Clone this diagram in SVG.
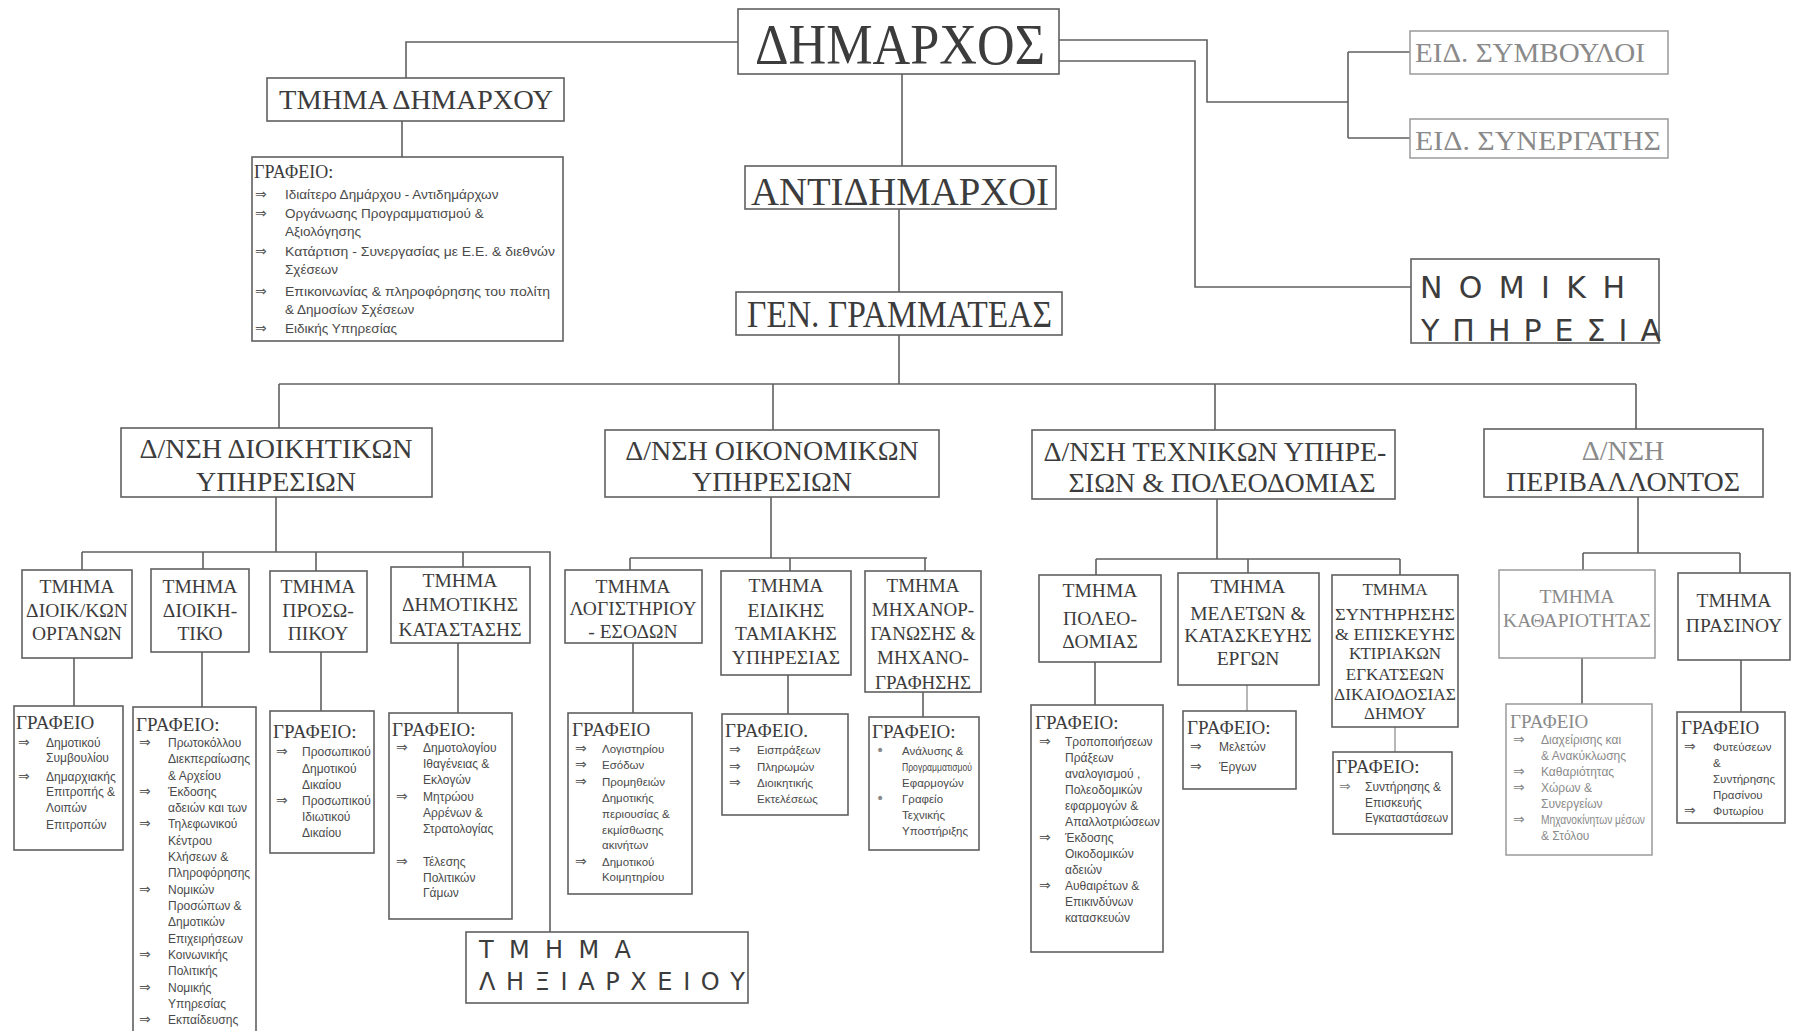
<svg xmlns="http://www.w3.org/2000/svg" width="1794" height="1031" viewBox="0 0 1794 1031">
<style>
.box{fill:#fff;stroke:#606060;stroke-width:1.6}
.fbox{fill:#fff;stroke:#9a9a9a;stroke-width:1.5}
.ln{fill:none;stroke:#606060;stroke-width:1.6}
.fln{fill:none;stroke:#a0a0a0;stroke-width:1.5}
.h{font-family:"Liberation Serif","Times New Roman",serif;fill:#3c3c3c}
.sec{font-family:"Liberation Serif","Times New Roman",serif;fill:#3c3c3c;font-size:19.5px;text-anchor:middle}
.dir{font-family:"Liberation Serif","Times New Roman",serif;fill:#3c3c3c;font-size:28px;text-anchor:middle}
.ti{font-family:"Liberation Serif","Times New Roman",serif;fill:#3c3c3c;font-size:19px}
.s{font-family:"Liberation Sans",Arial,sans-serif;fill:#4a4a4a;font-size:12px}
.bl{font-family:"DejaVu Sans",sans-serif;fill:#5a5a5a;font-size:14px}
.sp{font-family:"DejaVu Sans","Liberation Sans",sans-serif;fill:#3c3c3c}
.faint{fill:#8a8a8a}
</style>
<rect width="1794" height="1031" fill="#fff"/>

<g id="connectors">
<path class="ln" d="M738 42H406V78"/>
<path class="ln" d="M402 121V157"/>
<path class="ln" d="M902 74V166"/>
<path class="ln" d="M899 209V292"/>
<path class="ln" d="M899 335V384"/>
<path class="ln" d="M1059 40H1207V102H1348"/>
<path class="ln" d="M1348 52V138M1348 52H1410M1348 138H1410"/>
<path class="ln" d="M1059 61H1195V287H1411"/>
<path class="ln" d="M279 384H1636"/>
<path class="ln" d="M279 384V428M773 384V430M1215 384V430M1636 384V429"/>
<path class="ln" d="M276 497V552M82 552H550V932"/>
<path class="ln" d="M82 552V570M203 552V569M316 552V571M463 552V567"/>
<path class="ln" d="M74 658V706M202 652V707M321 652V711M458 643V713"/>
<path class="ln" d="M771 497V558M630 558H927"/>
<path class="ln" d="M630 558V570M790 558V571M925 558V571"/>
<path class="ln" d="M633 643V713M788 675V714M923 692V717"/>
<path class="ln" d="M1217 499V559M1096 559H1400"/>
<path class="ln" d="M1096 559V575M1248 559V573M1400 559V575"/>
<path class="ln" d="M1095 662V705"/>
<path class="fln" d="M1247 685V711M1395 727V752"/>
<path class="ln" d="M1638 497V553M1583 553H1740"/>
<path class="ln" d="M1583 553V570M1740 553V573"/>
<path class="ln" d="M1582 658V704M1741 660V712"/>
</g>

<g id="dimarxos">
<rect class="box" x="738" y="9" width="321" height="65"/>
<text class="h" x="755" y="64" font-size="56" textLength="290" lengthAdjust="spacingAndGlyphs">ΔΗΜΑΡΧΟΣ</text>
</g>
<g id="tmima-dimarxou">
<rect class="box" x="267" y="78" width="297" height="43"/>
<text class="h" x="279" y="109" font-size="28" textLength="274" lengthAdjust="spacingAndGlyphs">ΤΜΗΜΑ ΔΗΜΑΡΧΟΥ</text>
</g>
<g id="grafeio-dimarxou">
<rect class="box" x="252" y="157" width="311" height="184"/>
<text class="ti" x="254" y="178" style="font-size:18px">ΓΡΑΦΕΙΟ:</text>
<text class="bl"><tspan x="255" y="199">⇒</tspan><tspan x="255" y="218">⇒</tspan><tspan x="255" y="256">⇒</tspan><tspan x="255" y="296">⇒</tspan><tspan x="255" y="333">⇒</tspan></text>
<text class="s" style="font-size:13.5px"><tspan x="285" y="199">Ιδιαίτερο Δημάρχου - Αντιδημάρχων</tspan><tspan x="285" y="218">Οργάνωσης Προγραμματισμού &amp;</tspan><tspan x="285" y="236">Αξιολόγησης</tspan><tspan x="285" y="256" textLength="270" lengthAdjust="spacingAndGlyphs">Κατάρτιση - Συνεργασίας με Ε.Ε. &amp; διεθνών</tspan><tspan x="285" y="274">Σχέσεων</tspan><tspan x="285" y="296" textLength="265" lengthAdjust="spacingAndGlyphs">Επικοινωνίας &amp; πληροφόρησης του πολίτη</tspan><tspan x="285" y="314">&amp; Δημοσίων Σχέσεων</tspan><tspan x="285" y="333">Ειδικής Υπηρεσίας</tspan></text>
</g>
<g id="antidimarxoi">
<rect class="box" x="745" y="166" width="311" height="43"/>
<text class="h" x="751" y="205" font-size="40" textLength="298" lengthAdjust="spacingAndGlyphs">ΑΝΤΙΔΗΜΑΡΧΟΙ</text>
</g>
<g id="gen-grammateas">
<rect class="box" x="736" y="292" width="326" height="43"/>
<text class="h" x="747" y="327" font-size="37" textLength="305" lengthAdjust="spacingAndGlyphs">ΓΕΝ. ΓΡΑΜΜΑΤΕΑΣ</text>
</g>
<g id="eid-symvouloi">
<rect class="fbox" x="1410" y="31" width="258" height="43"/>
<text class="h faint" x="1415" y="62" font-size="27" textLength="230" lengthAdjust="spacingAndGlyphs">ΕΙΔ. ΣΥΜΒΟΥΛΟΙ</text>
</g>
<g id="eid-synergatis">
<rect class="fbox" x="1410" y="119" width="258" height="39"/>
<text class="h faint" x="1415" y="150" font-size="27" textLength="246" lengthAdjust="spacingAndGlyphs">ΕΙΔ. ΣΥΝΕΡΓΑΤΗΣ</text>
</g>
<g id="nomiki">
<rect class="box" x="1411" y="259" width="248" height="84"/>
<text class="sp" x="1420" y="298" font-size="30" textLength="205" lengthAdjust="spacing">ΝΟΜΙΚΗ</text>
<text class="sp" x="1421" y="341" font-size="30" textLength="240" lengthAdjust="spacing">ΥΠΗΡΕΣΙΑ</text>
</g>

<g id="dnsi-dioikitikon">
<rect class="box" x="121" y="428" width="311" height="69"/>
<text class="dir"><tspan x="276" y="458">Δ/ΝΣΗ ΔΙΟΙΚΗΤΙΚΩΝ</tspan><tspan x="276" y="491">ΥΠΗΡΕΣΙΩΝ</tspan></text>
</g>
<g id="dnsi-oikonomikon">
<rect class="box" x="605" y="430" width="334" height="67"/>
<text class="dir"><tspan x="772" y="460">Δ/ΝΣΗ ΟΙΚΟΝΟΜΙΚΩΝ</tspan><tspan x="772" y="491">ΥΠΗΡΕΣΙΩΝ</tspan></text>
</g>
<g id="dnsi-texnikon">
<rect class="box" x="1032" y="430" width="363" height="69"/>
<text class="dir"><tspan x="1215" y="461">Δ/ΝΣΗ ΤΕΧΝΙΚΩΝ ΥΠΗΡΕ-</tspan><tspan x="1222" y="492">ΣΙΩΝ &amp; ΠΟΛΕΟΔΟΜΙΑΣ</tspan></text>
</g>
<g id="dnsi-perivallontos">
<rect class="box" x="1484" y="429" width="279" height="68"/>
<text class="dir"><tspan class="faint" x="1623" y="460">Δ/ΝΣΗ</tspan><tspan x="1623" y="491">ΠΕΡΙΒΑΛΛΟΝΤΟΣ</tspan></text>
</g>

<g id="tm-organon">
<rect class="box" x="22" y="570" width="110" height="88"/>
<text class="sec"><tspan x="77" y="593">ΤΜΗΜΑ</tspan><tspan x="77" y="617">ΔΙΟΙΚ/ΚΩΝ</tspan><tspan x="77" y="640">ΟΡΓΑΝΩΝ</tspan></text>
</g>
<g id="tm-dioikitiko">
<rect class="box" x="151" y="569" width="98" height="83"/>
<text class="sec"><tspan x="200" y="593">ΤΜΗΜΑ</tspan><tspan x="200" y="617">ΔΙΟΙΚΗ-</tspan><tspan x="200" y="640">ΤΙΚΟ</tspan></text>
</g>
<g id="tm-prosopikou">
<rect class="box" x="270" y="571" width="97" height="81"/>
<text class="sec"><tspan x="318" y="593">ΤΜΗΜΑ</tspan><tspan x="318" y="617">ΠΡΟΣΩ-</tspan><tspan x="318" y="640">ΠΙΚΟΥ</tspan></text>
</g>
<g id="tm-dimotikis">
<rect class="box" x="391" y="567" width="139" height="76"/>
<text class="sec"><tspan x="460" y="587">ΤΜΗΜΑ</tspan><tspan x="460" y="611">ΔΗΜΟΤΙΚΗΣ</tspan><tspan x="460" y="636">ΚΑΤΑΣΤΑΣΗΣ</tspan></text>
</g>
<g id="tm-lixiarxeiou">
<rect class="box" x="466" y="932" width="282" height="71"/>
<text class="sp" x="479" y="958" font-size="24" textLength="152" lengthAdjust="spacing">ΤΜΗΜΑ</text>
<text class="sp" x="479" y="990" font-size="24" textLength="266" lengthAdjust="spacing">ΛΗΞΙΑΡΧΕΙΟΥ</text>
</g>

<g id="tm-logistiriou">
<rect class="box" x="565" y="570" width="137" height="73"/>
<text class="sec"><tspan x="633" y="593">ΤΜΗΜΑ</tspan><tspan x="633" y="615">ΛΟΓΙΣΤΗΡΙΟΥ</tspan><tspan x="633" y="638">- ΕΣΟΔΩΝ</tspan></text>
</g>
<g id="tm-tamiakis">
<rect class="box" x="721" y="571" width="130" height="104"/>
<text class="sec"><tspan x="786" y="592">ΤΜΗΜΑ</tspan><tspan x="786" y="617">ΕΙΔΙΚΗΣ</tspan><tspan x="786" y="640">ΤΑΜΙΑΚΗΣ</tspan><tspan x="786" y="664">ΥΠΗΡΕΣΙΑΣ</tspan></text>
</g>
<g id="tm-mixanorganosis">
<rect class="box" x="865" y="571" width="116" height="121"/>
<text class="sec" style="font-size:19px"><tspan x="923" y="592">ΤΜΗΜΑ</tspan><tspan x="923" y="616">ΜΗΧΑΝΟΡ-</tspan><tspan x="923" y="640">ΓΑΝΩΣΗΣ &amp;</tspan><tspan x="923" y="664">ΜΗΧΑΝΟ-</tspan><tspan x="923" y="689">ΓΡΑΦΗΣΗΣ</tspan></text>
</g>

<g id="tm-poleodomias">
<rect class="box" x="1039" y="575" width="122" height="87"/>
<text class="sec"><tspan x="1100" y="597">ΤΜΗΜΑ</tspan><tspan x="1100" y="625">ΠΟΛΕΟ-</tspan><tspan x="1100" y="648">ΔΟΜΙΑΣ</tspan></text>
</g>
<g id="tm-meleton">
<rect class="box" x="1178" y="573" width="141" height="112"/>
<text class="sec"><tspan x="1248" y="593">ΤΜΗΜΑ</tspan><tspan x="1248" y="620">ΜΕΛΕΤΩΝ &amp;</tspan><tspan x="1248" y="642">ΚΑΤΑΣΚΕΥΗΣ</tspan><tspan x="1248" y="665">ΕΡΓΩΝ</tspan></text>
</g>
<g id="tm-syntirisis">
<rect class="box" x="1332" y="575" width="126" height="152"/>
<text class="sec" style="font-size:17px"><tspan x="1395" y="595">ΤΜΗΜΑ</tspan><tspan x="1395" y="620" textLength="120" lengthAdjust="spacingAndGlyphs">ΣΥΝΤΗΡΗΣΗΣ</tspan><tspan x="1395" y="640" textLength="120" lengthAdjust="spacingAndGlyphs">&amp; ΕΠΙΣΚΕΥΗΣ</tspan><tspan x="1395" y="659">ΚΤΙΡΙΑΚΩΝ</tspan><tspan x="1395" y="680">ΕΓΚΑΤΣΕΩΝ</tspan><tspan x="1395" y="700" textLength="122" lengthAdjust="spacingAndGlyphs">ΔΙΚΑΙΟΔΟΣΙΑΣ</tspan><tspan x="1395" y="719">ΔΗΜΟΥ</tspan></text>
</g>

<g id="tm-kathariotitas">
<rect class="fbox" x="1499" y="570" width="156" height="88"/>
<text class="sec faint"><tspan x="1577" y="603">ΤΜΗΜΑ</tspan><tspan x="1577" y="627">ΚΑΘΑΡΙΟΤΗΤΑΣ</tspan></text>
</g>
<g id="tm-prasinou">
<rect class="box" x="1678" y="573" width="112" height="87"/>
<text class="sec"><tspan x="1734" y="607">ΤΜΗΜΑ</tspan><tspan x="1734" y="632">ΠΡΑΣΙΝΟΥ</tspan></text>
</g>

<g id="graf-organon">
<rect class="box" x="14" y="706" width="109" height="144"/>
<text class="ti" x="16" y="729">ΓΡΑΦΕΙΟ</text>
<text class="bl"><tspan x="18" y="747">⇒</tspan><tspan x="18" y="781">⇒</tspan></text>
<text class="s"><tspan x="46" y="747">Δημοτικού</tspan><tspan x="46" y="762">Συμβουλίου</tspan><tspan x="46" y="781">Δημαρχιακής</tspan><tspan x="46" y="796">Επιτροπής &amp;</tspan><tspan x="46" y="812">Λοιπών</tspan><tspan x="46" y="829">Επιτροπών</tspan></text>
</g>
<g id="graf-dioikitiko">
<rect class="box" x="133" y="707" width="123" height="340"/>
<text class="ti" x="136" y="731">ΓΡΑΦΕΙΟ:</text>
<text class="bl"><tspan x="139" y="747">⇒</tspan><tspan x="139" y="796">⇒</tspan><tspan x="139" y="828">⇒</tspan><tspan x="139" y="894">⇒</tspan><tspan x="139" y="959">⇒</tspan><tspan x="139" y="992">⇒</tspan><tspan x="139" y="1024">⇒</tspan></text>
<text class="s" style="font-size:12px"><tspan x="168" y="747">Πρωτοκόλλου</tspan><tspan x="168" y="763" textLength="82" lengthAdjust="spacingAndGlyphs">Διεκπεραίωσης</tspan><tspan x="168" y="780">&amp; Αρχείου</tspan><tspan x="168" y="796">Έκδοσης</tspan><tspan x="168" y="812">αδειών και των</tspan><tspan x="168" y="828">Τηλεφωνικού</tspan><tspan x="168" y="845">Κέντρου</tspan><tspan x="168" y="861">Κλήσεων &amp;</tspan><tspan x="168" y="877" textLength="82" lengthAdjust="spacingAndGlyphs">Πληροφόρησης</tspan><tspan x="168" y="894">Νομικών</tspan><tspan x="168" y="910">Προσώπων &amp;</tspan><tspan x="168" y="926">Δημοτικών</tspan><tspan x="168" y="943">Επιχειρήσεων</tspan><tspan x="168" y="959">Κοινωνικής</tspan><tspan x="168" y="975">Πολιτικής</tspan><tspan x="168" y="992">Νομικής</tspan><tspan x="168" y="1008">Υπηρεσίας</tspan><tspan x="168" y="1024">Εκπαίδευσης</tspan></text>
</g>
<g id="graf-prosopikou">
<rect class="box" x="270" y="711" width="104" height="142"/>
<text class="ti" x="273" y="738">ΓΡΑΦΕΙΟ:</text>
<text class="bl"><tspan x="276" y="756">⇒</tspan><tspan x="276" y="805">⇒</tspan></text>
<text class="s"><tspan x="302" y="756">Προσωπικού</tspan><tspan x="302" y="773">Δημοτικού</tspan><tspan x="302" y="789">Δικαίου</tspan><tspan x="302" y="805">Προσωπικού</tspan><tspan x="302" y="821">Ιδιωτικού</tspan><tspan x="302" y="837">Δικαίου</tspan></text>
</g>
<g id="graf-dimotikis">
<rect class="box" x="389" y="713" width="123" height="206"/>
<text class="ti" x="392" y="736">ΓΡΑΦΕΙΟ:</text>
<text class="bl"><tspan x="396" y="752">⇒</tspan><tspan x="396" y="801">⇒</tspan><tspan x="396" y="866">⇒</tspan></text>
<text class="s"><tspan x="423" y="752">Δημοτολογίου</tspan><tspan x="423" y="768">Ιθαγένειας &amp;</tspan><tspan x="423" y="784">Εκλογών</tspan><tspan x="423" y="801">Μητρώου</tspan><tspan x="423" y="817">Αρρένων &amp;</tspan><tspan x="423" y="833">Στρατολογίας</tspan><tspan x="423" y="866">Τέλεσης</tspan><tspan x="423" y="882">Πολιτικών</tspan><tspan x="423" y="897">Γάμων</tspan></text>
</g>

<g id="graf-logistiriou">
<rect class="box" x="568" y="713" width="124" height="181"/>
<text class="ti" x="572" y="736">ΓΡΑΦΕΙΟ</text>
<text class="bl"><tspan x="575" y="753">⇒</tspan><tspan x="575" y="769">⇒</tspan><tspan x="575" y="786">⇒</tspan><tspan x="575" y="866">⇒</tspan></text>
<text class="s" style="font-size:11.5px"><tspan x="602" y="753">Λογιστηρίου</tspan><tspan x="602" y="769">Εσόδων</tspan><tspan x="602" y="786">Προμηθειών</tspan><tspan x="602" y="802">Δημοτικής</tspan><tspan x="602" y="818">περιουσίας &amp;</tspan><tspan x="602" y="834">εκμίσθωσης</tspan><tspan x="602" y="849">ακινήτων</tspan><tspan x="602" y="866">Δημοτικού</tspan><tspan x="602" y="881">Κοιμητηρίου</tspan></text>
</g>
<g id="graf-tamiakis">
<rect class="box" x="722" y="714" width="126" height="101"/>
<text class="ti" x="725" y="737">ΓΡΑΦΕΙΟ.</text>
<text class="bl"><tspan x="729" y="754">⇒</tspan><tspan x="729" y="771">⇒</tspan><tspan x="729" y="787">⇒</tspan></text>
<text class="s" style="font-size:11.5px"><tspan x="757" y="754">Εισπράξεων</tspan><tspan x="757" y="771">Πληρωμών</tspan><tspan x="757" y="787">Διοικητικής</tspan><tspan x="757" y="803">Εκτελέσεως</tspan></text>
</g>
<g id="graf-mixanorganosis">
<rect class="box" x="869" y="717" width="110" height="133"/>
<text class="ti" x="872" y="738">ΓΡΑΦΕΙΟ:</text>
<text class="bl faint"><tspan x="876" y="755">•</tspan><tspan x="876" y="803">•</tspan></text>
<text class="s" style="font-size:11.5px"><tspan x="902" y="755">Ανάλυσης &amp;</tspan><tspan x="902" y="771" textLength="70" lengthAdjust="spacingAndGlyphs">Προγραμματισμού</tspan><tspan x="902" y="787">Εφαρμογών</tspan><tspan x="902" y="803">Γραφείο</tspan><tspan x="902" y="819">Τεχνικής</tspan><tspan x="902" y="835">Υποστήριξης</tspan></text>
</g>

<g id="graf-poleodomias">
<rect class="box" x="1031" y="705" width="132" height="247"/>
<text class="ti" x="1035" y="729">ΓΡΑΦΕΙΟ:</text>
<text class="bl"><tspan x="1039" y="746">⇒</tspan><tspan x="1039" y="842">⇒</tspan><tspan x="1039" y="890">⇒</tspan></text>
<text class="s"><tspan x="1065" y="746">Τροποποιήσεων</tspan><tspan x="1065" y="762">Πράξεων</tspan><tspan x="1065" y="778">αναλογισμού ,</tspan><tspan x="1065" y="794">Πολεοδομικών</tspan><tspan x="1065" y="810">εφαρμογών &amp;</tspan><tspan x="1065" y="826" textLength="95" lengthAdjust="spacingAndGlyphs">Απαλλοτριώσεων</tspan><tspan x="1065" y="842">Έκδοσης</tspan><tspan x="1065" y="858">Οικοδομικών</tspan><tspan x="1065" y="874">αδειών</tspan><tspan x="1065" y="890">Αυθαιρέτων &amp;</tspan><tspan x="1065" y="906">Επικινδύνων</tspan><tspan x="1065" y="922">κατασκευών</tspan></text>
</g>
<g id="graf-meleton">
<rect class="box" x="1183" y="711" width="113" height="78"/>
<text class="ti" x="1187" y="734">ΓΡΑΦΕΙΟ:</text>
<text class="bl"><tspan x="1190" y="751">⇒</tspan><tspan x="1190" y="771">⇒</tspan></text>
<text class="s"><tspan x="1219" y="751">Μελετών</tspan><tspan x="1219" y="771">Έργων</tspan></text>
</g>
<g id="graf-syntirisis">
<rect class="box" x="1333" y="752" width="119" height="82"/>
<text class="ti" x="1336" y="773">ΓΡΑΦΕΙΟ:</text>
<text class="bl faint"><tspan x="1339" y="791">⇒</tspan></text>
<text class="s"><tspan x="1365" y="791">Συντήρησης &amp;</tspan><tspan x="1365" y="807">Επισκευής</tspan><tspan x="1365" y="822" textLength="83" lengthAdjust="spacingAndGlyphs">Εγκαταστάσεων</tspan></text>
</g>

<g id="graf-kathariotitas">
<rect class="fbox" x="1506" y="704" width="146" height="151"/>
<text class="ti faint" x="1510" y="728">ΓΡΑΦΕΙΟ</text>
<text class="bl faint"><tspan x="1513" y="744">⇒</tspan><tspan x="1513" y="776">⇒</tspan><tspan x="1513" y="792">⇒</tspan><tspan x="1513" y="824">⇒</tspan></text>
<text class="s faint"><tspan x="1541" y="744">Διαχείρισης και</tspan><tspan x="1541" y="760">&amp; Ανακύκλωσης</tspan><tspan x="1541" y="776">Καθαριότητας</tspan><tspan x="1541" y="792">Χώρων &amp;</tspan><tspan x="1541" y="808">Συνεργείων</tspan><tspan x="1541" y="824" textLength="104" lengthAdjust="spacingAndGlyphs">Μηχανοκίνητων μέσων</tspan><tspan x="1541" y="840">&amp; Στόλου</tspan></text>
</g>
<g id="graf-prasinou">
<rect class="box" x="1677" y="712" width="108" height="111"/>
<text class="ti" x="1681" y="734">ΓΡΑΦΕΙΟ</text>
<text class="bl"><tspan x="1684" y="751">⇒</tspan><tspan x="1684" y="815">⇒</tspan></text>
<text class="s" style="font-size:11.5px"><tspan x="1713" y="751">Φυτεύσεων</tspan><tspan x="1713" y="767">&amp;</tspan><tspan x="1713" y="783">Συντήρησης</tspan><tspan x="1713" y="799">Πρασίνου</tspan><tspan x="1713" y="815">Φυτωρίου</tspan></text>
</g>
</svg>
